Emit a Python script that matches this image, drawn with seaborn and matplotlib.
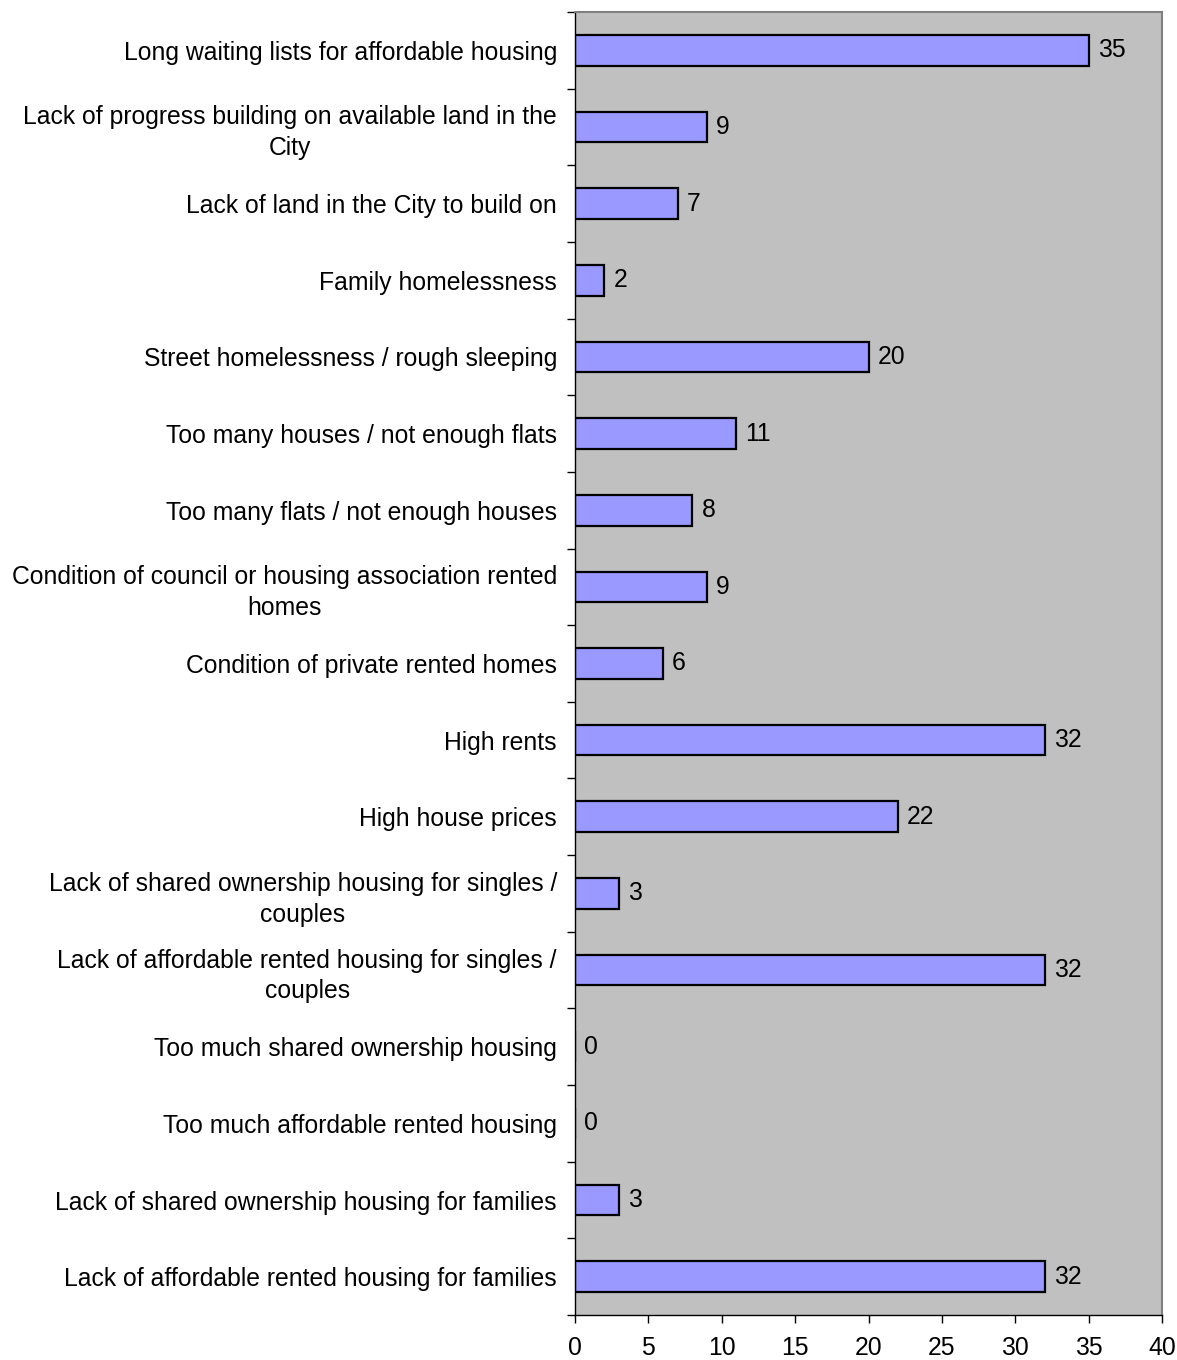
import matplotlib
matplotlib.use("Agg")
import matplotlib.pyplot as plt
import seaborn as sns
import pandas as pd

categories = [
    "Long waiting lists for affordable housing",
    "Lack of progress building on available land in the\nCity",
    "Lack of land in the City to build on",
    "Family homelessness",
    "Street homelessness / rough sleeping",
    "Too many houses / not enough flats",
    "Too many flats / not enough houses",
    "Condition of council or housing association rented\nhomes",
    "Condition of private rented homes",
    "High rents",
    "High house prices",
    "Lack of shared ownership housing for singles /\ncouples",
    "Lack of affordable rented housing for singles /\ncouples",
    "Too much shared ownership housing",
    "Too much affordable rented housing",
    "Lack of shared ownership housing for families",
    "Lack of affordable rented housing for families",
]
values = [35, 9, 7, 2, 20, 11, 8, 9, 6, 32, 22, 3, 32, 0, 0, 3, 32]
xticks = [0, 5, 10, 15, 20, 25, 30, 35, 40]

sns.set_theme(style="white")
plt.rcParams['font.family'] = ['Liberation Sans', 'DejaVu Sans']
plt.rcParams['text.color'] = 'black'
plt.rcParams['xtick.color'] = 'black'
plt.rcParams['ytick.color'] = 'black'

FS = 17.8

df = pd.DataFrame({"cat": categories, "val": values})

fig = plt.figure(figsize=(11.77, 13.6), dpi=100)
ax = fig.add_axes([575/1177, 1-1315/1360, (1162-575)/1177, (1315-12)/1360])
ax.set_facecolor("#C0C0C0")

sns.barplot(data=df, x="val", y="cat", orient="h", color="#9999FF",
            saturation=1, width=0.4, edgecolor="black", linewidth=1.6, ax=ax)

ax.set_xlim(0, 40)
ax.set_ylim(len(categories) - 0.5, -0.5)
ax.set_xticks(xticks)
ax.set_xticklabels([str(t) for t in xticks], fontsize=FS)
ax.set_xlabel("")
ax.set_ylabel("")

ax.set_yticks(range(len(categories)))
ax.set_yticklabels(categories, fontsize=FS, multialignment="center", linespacing=1.35)
ax.tick_params(axis="y", which="major", length=0, pad=13)
ax.set_yticks([i - 0.5 for i in range(len(categories) + 1)], minor=True)
ax.tick_params(axis="y", which="minor", length=6, width=1, color="black", left=True)
ax.tick_params(axis="x", which="major", length=6, width=1, color="black", bottom=True, pad=9)

for sp in ["left", "bottom"]:
    ax.spines[sp].set_color("black")
    ax.spines[sp].set_linewidth(1)
for sp in ["top", "right"]:
    ax.spines[sp].set_color("#808080")
    ax.spines[sp].set_linewidth(1.5)

for i, v in enumerate(values):
    ax.annotate(str(v), xy=(v, i), xytext=(6.5, 0), textcoords="offset points",
                va="center", ha="left", fontsize=FS, color="black")

fig.savefig("out.png", dpi=100)
